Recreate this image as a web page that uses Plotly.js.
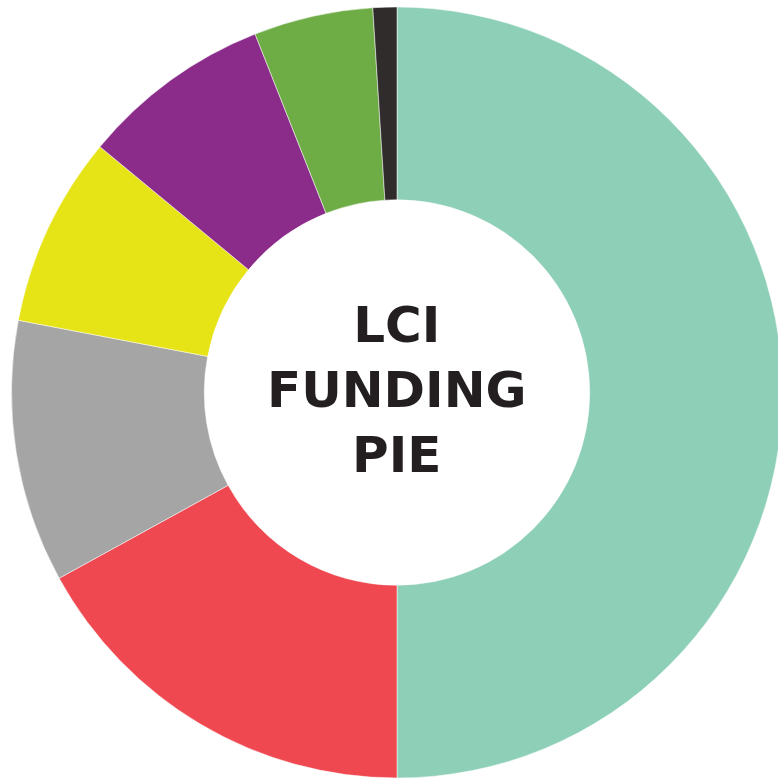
<!DOCTYPE html>
<html>
<head>
<meta charset="utf-8">
<script src="https://cdn.plot.ly/plotly-3.0.1.min.js"></script>
<style>
  html, body { margin: 0; padding: 0; overflow: hidden; background: #fff; }
  #chart { width: 783px; height: 780px; }
</style>
</head>
<body>
<div id="chart"></div>
<script>
// funding shares, clockwise from 12 o'clock (percent)
const sources = ['Source 1', 'Source 2', 'Source 3', 'Source 4', 'Source 5', 'Source 6', 'Source 7'];
const shares = [50, 17, 11, 8, 8, 5, 1];
const sliceColors = ['#8DCFB7', '#EF4850', '#A5A5A5', '#E6E317', '#8B2B8A', '#6EAC46', '#302C2B'];

const W = 783, H = 780;

const trace = {
    type: 'pie',
    labels: sources,
    values: shares,
    hole: 0.5,
    sort: false,
    direction: 'clockwise',
    rotation: 0,
    textinfo: 'none',
    hoverinfo: 'label+percent',
    marker: { colors: sliceColors, line: { color: '#ffffff', width: 0.5 } },
    domain: {
        x: [11.5 / W, 782.5 / W],
        y: [2 / H, 773 / H]
    }
};

const layout = {
    width: W,
    height: H,
    margin: { l: 0, r: 0, t: 0, b: 0 },
    showlegend: false,
    paper_bgcolor: '#ffffff',
    annotations: [{
        text: 'LCI<br>FUNDING<br>PIE',
        x: 397 / W,
        y: 1 - 390 / H,
        xref: 'paper',
        yref: 'paper',
        xanchor: 'center',
        yanchor: 'middle',
        showarrow: false,
        font: { family: 'DejaVu Sans, sans-serif', size: 50, color: '#231F20', weight: 700 }
    }]
};

Plotly.newPlot('chart', [trace], layout, { displayModeBar: false, staticPlot: true });
</script>
</body>
</html>
